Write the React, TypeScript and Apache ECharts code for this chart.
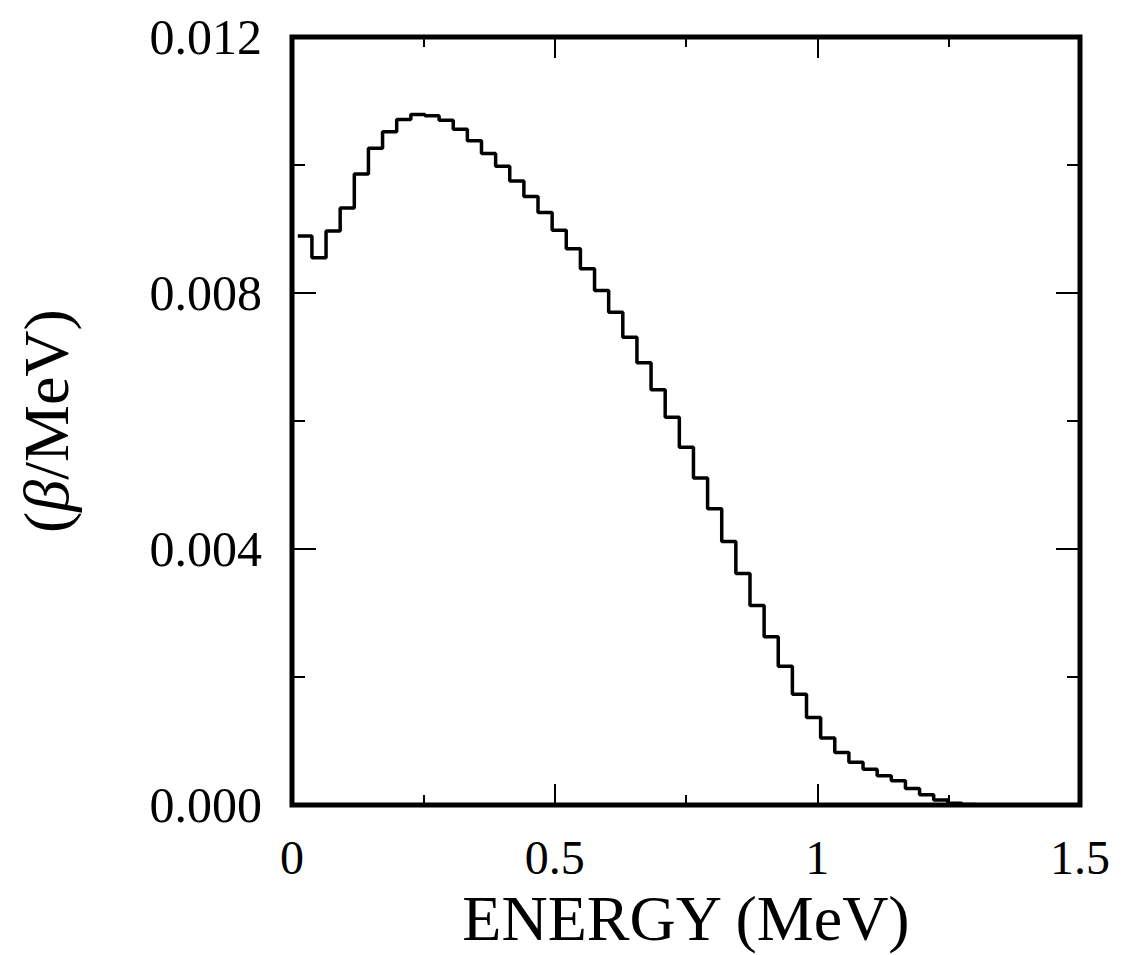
import React, { useEffect, useRef } from "react";
import * as echarts from "echarts";

// Histogram of beta spectrum: bins of uniform width starting at binStart (MeV)
const binStart = 0.011;
const binWidth = 0.0269;
const binValues = [
  0.00889, 0.00855, 0.00897, 0.00933, 0.00986, 0.01026, 0.01052, 0.01071, 0.01079, 0.01077,
  0.0107, 0.01056, 0.01038, 0.01018, 0.00998, 0.00975, 0.00951, 0.00926, 0.00898, 0.00869,
  0.00838, 0.00804, 0.0077, 0.00731, 0.00691, 0.00649, 0.00606, 0.00559, 0.00511, 0.00463,
  0.00412, 0.00362, 0.00312, 0.00263, 0.00217, 0.00173, 0.00137, 0.00105, 0.00082, 0.00067,
  0.00056, 0.00046, 0.00038, 0.00026, 0.00016, 0.00008, 0.00003, 0.00001,
];

const xTickLabels = ["0", "0.5", "1", "1.5"];
const yTickLabels = ["0.000", "0.004", "0.008", "0.012"];
const xAxisTitle = "ENERGY (MeV)";
const yAxisTitle = "({b|β}/MeV)";

const FONT = "Liberation Serif";

export default function App() {
  const ref = useRef<HTMLDivElement>(null);

  useEffect(() => {
    if (!ref.current) return;
    const chart = echarts.init(ref.current, undefined, { renderer: "svg" });

    const stepData: [number, number][] = [];
    binValues.forEach((v, i) => {
      const lo = binStart + i * binWidth;
      const hi = lo + binWidth;
      stepData.push([lo, v]);
      stepData.push([hi, v]);
    });

    const xLabelMap: Record<string, string> = { "0": xTickLabels[0], "0.5": xTickLabels[1], "1": xTickLabels[2], "1.5": xTickLabels[3] };
    const yLabelMap: Record<string, string> = { "0": yTickLabels[0], "0.004": yTickLabels[1], "0.008": yTickLabels[2], "0.012": yTickLabels[3] };

    const tickStyle = { color: "#000", width: 2 };

    chart.setOption({
      animation: false,
      backgroundColor: "#fff",
      grid: {
        left: 292,
        right: 43,
        top: 37,
        bottom: 145,
        show: true,
        borderColor: "#000",
        borderWidth: 5,
        backgroundColor: "transparent",
      },
      xAxis: [
        {
          type: "value",
          min: 0,
          max: 1.5,
          interval: 0.5,
          position: "bottom",
          axisLine: { show: false, onZero: false },
          axisTick: { show: true, inside: true, length: 21, lineStyle: tickStyle },
          minorTick: { show: true, splitNumber: 2, length: 10, lineStyle: tickStyle },
          splitLine: { show: false },
          minorSplitLine: { show: false },
          axisLabel: {
            margin: 28,
            fontFamily: FONT,
            fontSize: 48,
            color: "#000",
            formatter: (v: number) => xLabelMap[String(+v.toFixed(2))] ?? String(v),
          },
          name: xAxisTitle,
          nameLocation: "middle",
          nameGap: 76,
          nameTextStyle: { fontFamily: FONT, fontSize: 64, color: "#000" },
        },
        {
          type: "value",
          min: 0,
          max: 1.5,
          interval: 0.5,
          position: "top",
          axisLine: { show: false, onZero: false },
          axisTick: { show: true, inside: true, length: 21, lineStyle: tickStyle },
          minorTick: { show: true, splitNumber: 2, length: 10, lineStyle: tickStyle },
          splitLine: { show: false },
          axisLabel: { show: false },
        },
      ],
      yAxis: [
        {
          type: "value",
          min: 0,
          max: 0.012,
          interval: 0.004,
          position: "left",
          axisLine: { show: false, onZero: false },
          axisTick: { show: true, inside: true, length: 24, lineStyle: tickStyle },
          minorTick: { show: true, splitNumber: 2, length: 13, lineStyle: tickStyle },
          splitLine: { show: false },
          minorSplitLine: { show: false },
          axisLabel: {
            margin: 30,
            fontFamily: FONT,
            fontSize: 50,
            color: "#000",
            formatter: (v: number) => yLabelMap[String(+v.toFixed(3))] ?? v.toFixed(3),
          },
          name: yAxisTitle,
          nameLocation: "middle",
          nameGap: 214,
          nameTextStyle: {
            fontFamily: FONT,
            fontSize: 64,
            color: "#000",
            rich: { b: { fontFamily: FONT, fontSize: 64, fontStyle: "italic", color: "#000" } },
          },
        },
        {
          type: "value",
          min: 0,
          max: 0.012,
          interval: 0.004,
          position: "right",
          axisLine: { show: false, onZero: false },
          axisTick: { show: true, inside: true, length: 24, lineStyle: tickStyle },
          minorTick: { show: true, splitNumber: 2, length: 13, lineStyle: tickStyle },
          splitLine: { show: false },
          axisLabel: { show: false },
        },
      ],
      series: [
        {
          type: "line",
          xAxisIndex: 0,
          yAxisIndex: 0,
          data: stepData,
          symbol: "none",
          lineStyle: { color: "#000", width: 3.5 },
          clip: true,
        },
      ],
    });

    return () => chart.dispose();
  }, []);

  return (
    <div
      ref={ref}
      style={{ position: "fixed", left: 0, top: 0, width: 1123, height: 955, background: "#fff" }}
    />
  );
}
